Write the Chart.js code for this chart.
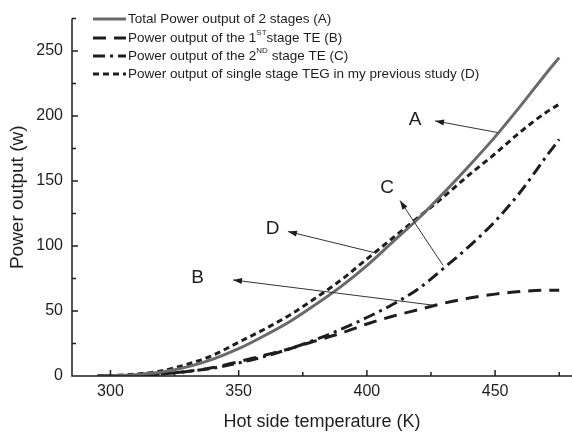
<!DOCTYPE html>
<html>
<head>
<meta charset="utf-8">
<script src="https://cdn.jsdelivr.net/npm/chart.js@4/dist/chart.umd.min.js"></script>
<style>
  html, body { margin: 0; padding: 0; background: #fff; }
</style>
</head>
<body>
<canvas id="chart" width="572" height="437"></canvas>
<script>
// Hot side temperature (K) and power output (W)
const temps  = [295, 300, 310, 320, 330, 340, 350, 360, 370, 380, 390, 400, 410, 420, 430, 440, 450, 460, 470, 475];
const totalA = [0, 0.2, 1, 3, 7, 13, 21, 31, 42, 55, 69, 85, 103, 121, 141, 162, 184, 208, 233, 245];
const stage1B = [0, 0.1, 0.5, 1.5, 3.5, 6.5, 11, 16, 21, 27, 33, 40, 46, 51, 56, 60, 63, 65, 66, 66];
const stage2C = [0, 0.1, 0.5, 1.5, 3.5, 6, 10, 15, 21, 28, 36, 45, 55, 67, 83, 100, 119, 142, 169, 182];
const singleD = [0, 0.3, 1.5, 4, 9, 16, 26, 36, 47, 60, 74, 90, 106, 122, 138, 155, 171, 188, 203, 209];

const xMajorTicks = [300, 350, 400, 450];
const xMinorTicks = [325, 375, 425, 475];
const yMajorTicks = [0, 50, 100, 150, 200, 250];
const yMinorTicks = [25, 75, 125, 175, 225, 275];

// ^{..} marks superscript text
const legendLabels = [
    'Total Power output of 2 stages (A)',
    'Power output of the 1^{ST}stage TE (B)',
    'Power output of the 2^{ND} stage TE (C)',
    'Power output of single stage TEG in my previous study (D)'
];

// letter, label centre, arrow head, arrow tail (data units)
const annLetters = ['A', 'B', 'C', 'D'];
const annText = [[418.8, 197], [334, 75.7], [407.9, 144.8], [363.2, 113.4]];
const annHead = [[426.6, 196.3], [347.8, 73.9], [412.9, 135], [369.2, 111.2]];
const annTail = [[451.1, 187.3], [425.8, 54.5], [429.7, 85.1], [403.2, 94.8]];

const FONT = "'Liberation Sans', Arial, sans-serif";
const INK = '#1e1e1e';

function toPoints(vals) {
    return temps.map((t, i) => ({ x: t, y: vals[i] }));
}

const seriesStyles = [
    { color: '#6a6a6a', width: 3, dash: [] },
    { color: INK, width: 3, dash: [13, 8] },
    { color: INK, width: 3, dash: [12, 5, 3, 5] },
    { color: INK, width: 3, dash: [6, 4] }
];
const seriesData = [totalA, stage1B, stage2C, singleD];

const datasets = seriesData.map((vals, i) => ({
    label: legendLabels[i],
    data: toPoints(vals),
    borderColor: seriesStyles[i].color,
    borderWidth: seriesStyles[i].width,
    borderDash: seriesStyles[i].dash,
    pointRadius: 0,
    fill: false,
    cubicInterpolationMode: 'monotone'
}));

function drawRichText(ctx, text, x, y, size) {
    // split into normal and ^{sup} pieces
    const parts = text.split(/(\^\{[^}]*\})/);
    for (let p of parts) {
        if (!p) continue;
        if (p.startsWith('^{')) {
            const s = p.slice(2, -1);
            ctx.font = `${Math.round(size * 0.6)}px ${FONT}`;
            ctx.fillText(s, x, y - size * 0.42);
            x += ctx.measureText(s).width;
        } else {
            ctx.font = `${size}px ${FONT}`;
            ctx.fillText(p, x, y);
            x += ctx.measureText(p).width;
        }
    }
}

function drawArrow(ctx, x0, y0, x1, y1) {
    ctx.beginPath();
    ctx.moveTo(x0, y0);
    ctx.lineTo(x1, y1);
    ctx.stroke();
    const ang = Math.atan2(y1 - y0, x1 - x0);
    const len = 9, half = 3;
    ctx.beginPath();
    ctx.moveTo(x1, y1);
    ctx.lineTo(x1 - len * Math.cos(ang) + half * Math.sin(ang), y1 - len * Math.sin(ang) - half * Math.cos(ang));
    ctx.lineTo(x1 - len * Math.cos(ang) - half * Math.sin(ang), y1 - len * Math.sin(ang) + half * Math.cos(ang));
    ctx.closePath();
    ctx.fill();
}

const extrasPlugin = {
    id: 'extras',
    afterDatasetsDraw(chart) {
        const { ctx, chartArea: a, scales: { x, y } } = chart;
        ctx.save();

        // axis lines with inward ticks
        ctx.strokeStyle = INK;
        ctx.lineWidth = 1.5;
        ctx.setLineDash([]);
        ctx.beginPath();
        ctx.moveTo(a.left, a.top);
        ctx.lineTo(a.left, a.bottom);
        ctx.lineTo(a.right, a.bottom);
        for (let v of xMajorTicks) { const px = x.getPixelForValue(v); ctx.moveTo(px, a.bottom); ctx.lineTo(px, a.bottom - 6); }
        for (let v of xMinorTicks) { const px = x.getPixelForValue(v); ctx.moveTo(px, a.bottom); ctx.lineTo(px, a.bottom - 4); }
        for (let v of yMajorTicks) { const py = y.getPixelForValue(v); ctx.moveTo(a.left, py); ctx.lineTo(a.left + 6, py); }
        for (let v of yMinorTicks) { const py = y.getPixelForValue(v); ctx.moveTo(a.left, py); ctx.lineTo(a.left + 4, py); }
        ctx.stroke();

        // annotation letters and arrows
        ctx.fillStyle = INK;
        ctx.strokeStyle = '#333';
        ctx.lineWidth = 1;
        ctx.font = `19px ${FONT}`;
        ctx.textAlign = 'center';
        ctx.textBaseline = 'middle';
        annLetters.forEach((letter, i) => {
            ctx.fillText(letter, x.getPixelForValue(annText[i][0]), y.getPixelForValue(annText[i][1]));
            drawArrow(ctx,
                x.getPixelForValue(annTail[i][0]), y.getPixelForValue(annTail[i][1]),
                x.getPixelForValue(annHead[i][0]), y.getPixelForValue(annHead[i][1]));
        });

        // legend
        const rowsY = [19, 38, 56, 74];
        ctx.textAlign = 'left';
        ctx.textBaseline = 'middle';
        chart.data.datasets.forEach((ds, i) => {
            const ly = rowsY[i];
            ctx.strokeStyle = ds.borderColor;
            ctx.lineWidth = ds.borderWidth;
            ctx.setLineDash(ds.borderDash);
            ctx.beginPath();
            ctx.moveTo(93, ly);
            ctx.lineTo(126, ly);
            ctx.stroke();
            ctx.setLineDash([]);
            ctx.fillStyle = INK;
            drawRichText(ctx, ds.label, 128, ly, 13.5);
        });

        ctx.restore();
    }
};

new Chart(document.getElementById('chart'), {
    type: 'line',
    data: { datasets },
    options: {
        responsive: false,
        devicePixelRatio: 1,
        animation: false,
        layout: { padding: { top: 7, right: 0, left: 0, bottom: 0 } },
        plugins: { legend: { display: false }, tooltip: { enabled: false } },
        scales: {
            x: {
                type: 'linear',
                min: 285,
                max: 480,
                grid: { display: false, drawTicks: false },
                border: { display: false },
                afterBuildTicks: (s) => { s.ticks = xMajorTicks.map(v => ({ value: v })); },
                afterFit: (s) => { s.height = 61; },
                ticks: { font: { family: FONT, size: 16 }, color: INK, padding: 6, maxRotation: 0 },
                title: {
                    display: true,
                    text: 'Hot side temperature (K)',
                    color: INK,
                    font: { family: FONT, size: 18 },
                    padding: { top: 0, bottom: 4 }
                }
            },
            y: {
                type: 'linear',
                min: 0,
                max: 275,
                grid: { display: false, drawTicks: false },
                border: { display: false },
                afterBuildTicks: (s) => { s.ticks = yMajorTicks.map(v => ({ value: v })); },
                afterFit: (s) => { s.width = 72; },
                ticks: { font: { family: FONT, size: 16 }, color: INK, padding: 9 },
                title: {
                    display: true,
                    text: 'Power output (w)',
                    color: INK,
                    font: { family: FONT, size: 19 },
                    padding: { top: 6, bottom: 0 }
                }
            }
        }
    },
    plugins: [extrasPlugin]
});
</script>
</body>
</html>
